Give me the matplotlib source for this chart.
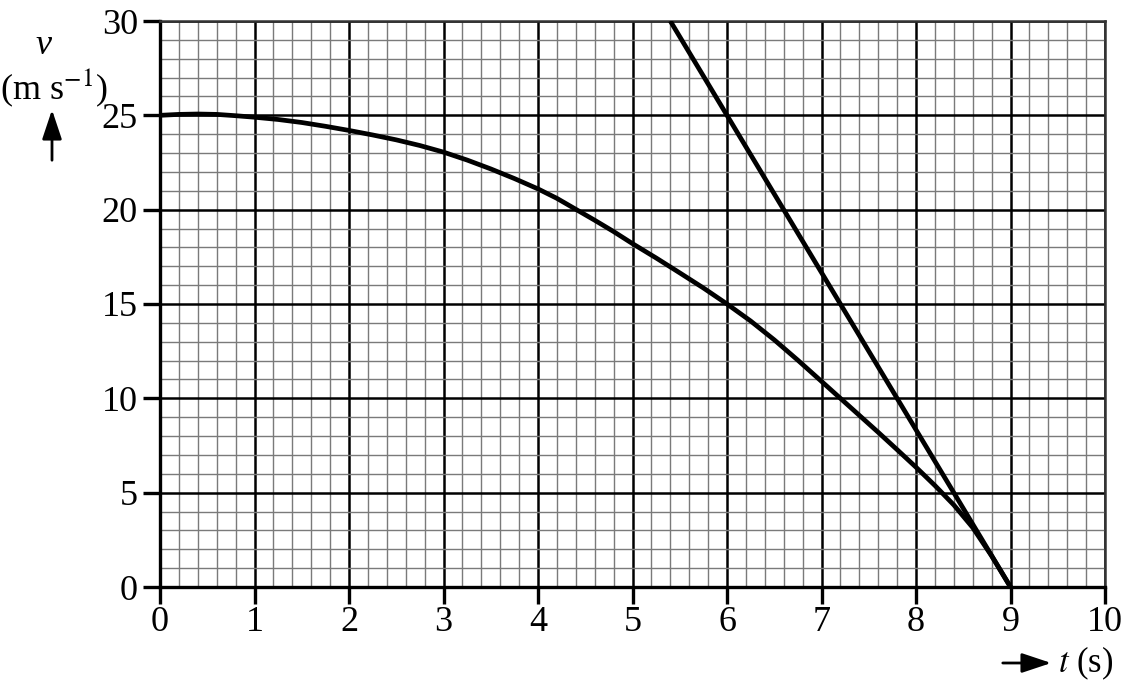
import matplotlib
matplotlib.use("Agg")
import matplotlib.pyplot as plt
import numpy as np

# ---- data ----
t_curve = [0, 0.2, 0.4, 0.6, 0.8, 1, 1.25, 1.5, 1.75, 2, 2.25, 2.5, 2.75, 3,
           3.25, 3.5, 3.75, 4, 4.2, 4.4, 4.6, 4.8, 5, 5.25, 5.5, 5.75, 6,
           6.25, 6.5, 6.75, 7, 7.2, 7.4, 7.6, 7.8, 8, 8.2, 8.4, 8.6, 8.8, 9]
v_curve = [25.0, 25.05, 25.07, 25.05, 24.98, 24.9, 24.78, 24.62, 24.42, 24.2,
           23.96, 23.7, 23.4, 23.05, 22.63, 22.16, 21.65, 21.1, 20.6, 20.02,
           19.44, 18.84, 18.2, 17.44, 16.65, 15.85, 15.0, 14.1, 13.1, 12.02,
           10.9, 10.0, 9.1, 8.2, 7.28, 6.35, 5.38, 4.35, 3.15, 1.65, 0.0]

t_tangent = [5.4, 9.0]
v_tangent = [30.0, 0.0]

x_ticks = [0, 1, 2, 3, 4, 5, 6, 7, 8, 9, 10]
y_ticks = [0, 5, 10, 15, 20, 25, 30]

plt.rcParams['font.family'] = ['Liberation Serif', 'DejaVu Serif']
plt.rcParams['mathtext.fontset'] = 'stix'

fig = plt.figure(figsize=(11.23, 6.8), dpi=100)
ax = fig.add_axes([160/1123, 1 - 587/680, (1105-160)/1123, (587-21)/680])

ax.set_xlim(0, 10)
ax.set_ylim(0, 30)

# grid
for x in np.arange(0, 10.001, 0.2):
    major = abs(x - round(x)) < 1e-6
    ax.axvline(x, color='black' if major else '#7a7a7a',
               lw=1.8 if major else 1.0, zorder=1)
for y in np.arange(0, 30.001, 1):
    major = int(round(y)) % 5 == 0
    ax.axhline(y, color='black' if major else '#7a7a7a',
               lw=1.8 if major else 1.0, zorder=1)

ax.plot(t_curve, v_curve, color='black', lw=3.4, zorder=3,
        solid_capstyle='round', solid_joinstyle='round')
ax.plot(t_tangent, v_tangent, color='black', lw=3.4, zorder=3,
        solid_capstyle='butt')

for side in ['left', 'bottom']:
    ax.spines[side].set_linewidth(2.4)
for side in ['top', 'right']:
    ax.spines[side].set_linewidth(1.8)
    ax.spines[side].set_color('#333333')

ax.set_xticks(x_ticks)
ax.set_yticks(y_ticks)
ax.set_xticklabels([str(v) for v in x_ticks])
ax.set_yticklabels([str(v) for v in y_ticks])
ax.tick_params(axis='both', direction='out', length=12, width=2.4,
               labelsize=26, colors='black')
ax.tick_params(axis='x', pad=2)
ax.tick_params(axis='y', pad=4)

# y-axis label
fig.text(43/1123, 1 - 45/680, 'v', fontsize=26, style='italic',
         ha='center', va='center')
fig.text(54/1123, 1 - 88/680, r'(m s$^{-1}$)', fontsize=26,
         ha='center', va='center')
fig.patches.append(matplotlib.patches.FancyArrowPatch(
    (52/1123, 1 - 163/680), (52/1123, 1 - 107/680),
    transform=fig.transFigure, arrowstyle='-|>,head_length=0.9,head_width=0.3',
    mutation_scale=20, lw=2, color='black'))

# x-axis label
fig.patches.append(matplotlib.patches.FancyArrowPatch(
    (1000/1123, 1 - 663/680), (1054/1123, 1 - 663/680),
    transform=fig.transFigure, arrowstyle='-|>,head_length=0.9,head_width=0.3',
    mutation_scale=20, lw=2, color='black'))
fig.text(1058/1123, 1 - 663/680, r'$t$ (s)', fontsize=25,
         ha='left', va='center')

fig.savefig('out.png', dpi=100)
